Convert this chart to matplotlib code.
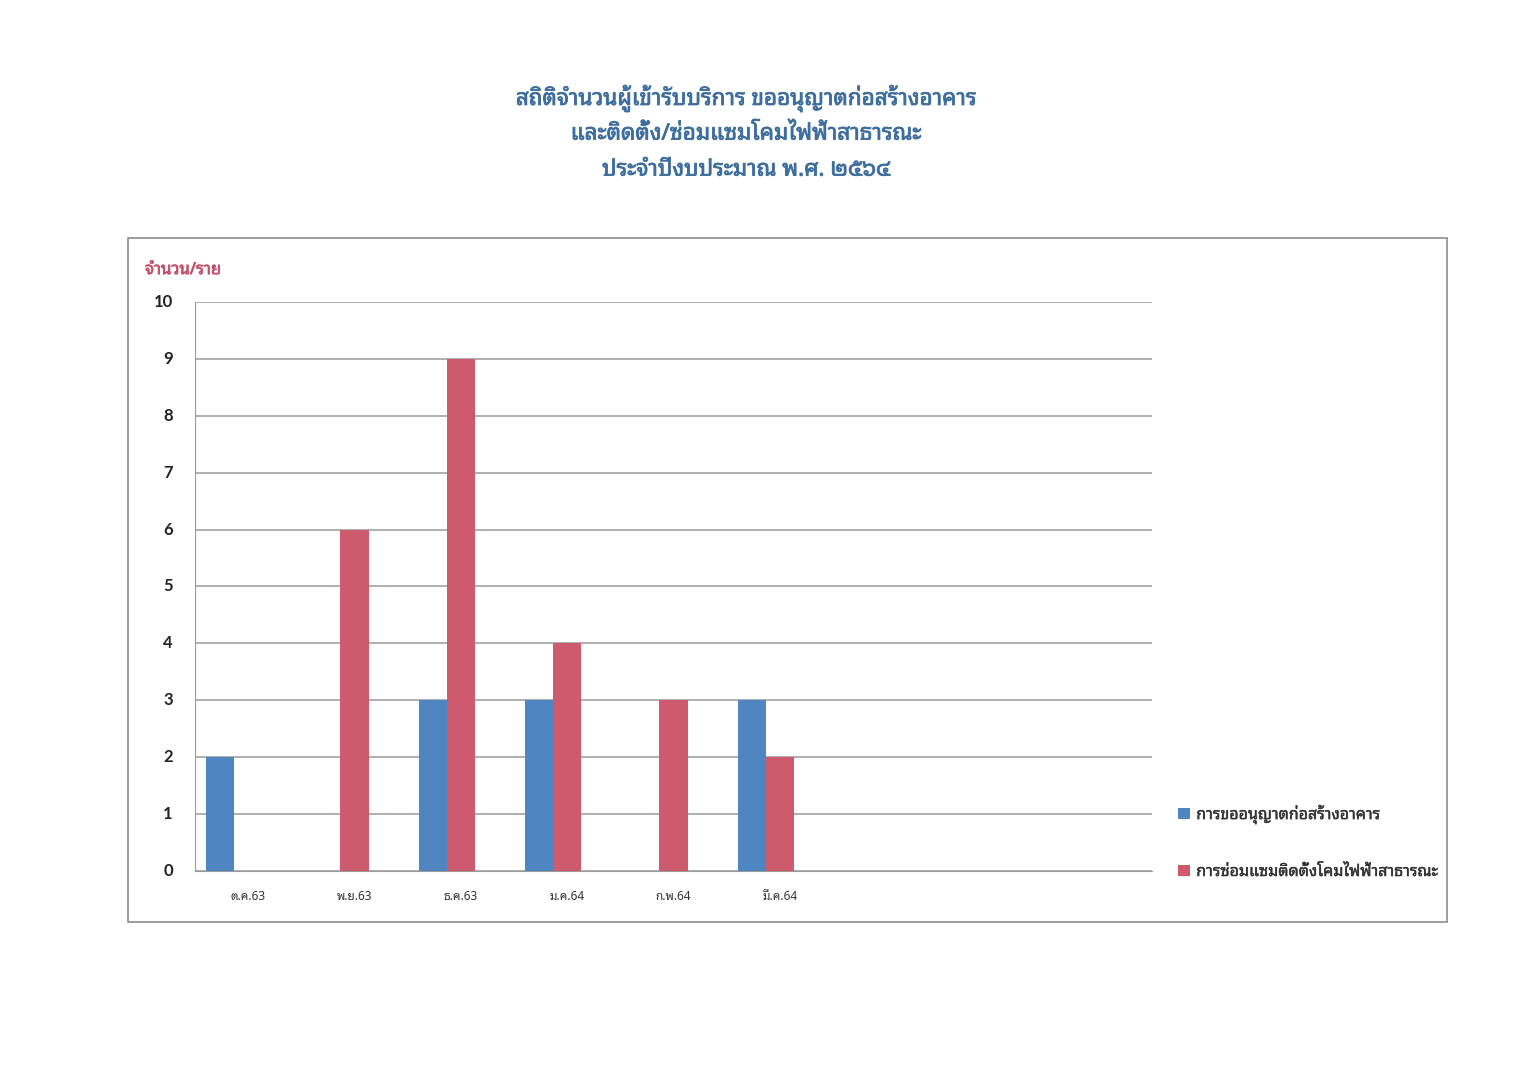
import matplotlib
matplotlib.use('Agg')
import matplotlib.pyplot as plt
import matplotlib.patheffects as pe
import numpy as np
from matplotlib.patches import Rectangle

# data
months = ['ต.ค.63', 'พ.ย.63', 'ธ.ค.63', 'ม.ค.64', 'ก.พ.64', 'มี.ค.64', '', '', '']
building = [2, 0, 3, 3, 0, 3, 0, 0, 0]
lamps = [0, 6, 9, 4, 3, 2, 0, 0, 0]
seriesNames = ['การขออนุญาตก่อสร้างอาคาร', 'การซ่อมแซมติดตั้งโคมไฟฟ้าสาธารณะ']
titleLines = ['สถิติจำนวนผู้เข้ารับบริการ ขออนุญาตก่อสร้างอาคาร',
              'และติดตั้ง/ซ่อมแซมโคมไฟฟ้าสาธารณะ',
              'ประจำปีงบประมาณ พ.ศ. ๒๕๖๔']
yTitle = 'จำนวน/ราย'
yValues = list(range(0, 11))

THAI = ['Noto Sans Thai Looped', 'Noto Sans Thai', 'DejaVu Sans']
plt.rcParams['font.family'] = THAI

BLUE = '#4F85C0'
RED = '#CD5A6D'
TITLE_COLOR = '#3D6E9E'
LABEL_RED = '#C4506A'


def heavy(color, lw=0.7):
    # the looped thai font has no bold face here, so thicken it with a stroke
    return [pe.withStroke(linewidth=lw, foreground=color)]


fig = plt.figure(figsize=(15.27, 10.72), dpi=100)
fig.patch.set_facecolor('white')

# outer chart frame
fig.patches.append(Rectangle((0.0838, 0.1399), 0.8638, 0.638, transform=fig.transFigure,
                             fill=False, edgecolor='#8C8C8C', linewidth=1.2))

for i, line in enumerate(titleLines):
    fig.text(0.4885, 0.9085 - i * 0.0336, line, ha='center', va='center',
             fontsize=16.2, color=TITLE_COLOR, path_effects=heavy(TITLE_COLOR, 0.55))

ax = fig.add_axes([0.1277, 0.1875, 0.6267, 0.5308])
x = np.arange(len(months))
w = 0.264
ax.bar(x - w, building, width=w, color=BLUE, label=seriesNames[0], zorder=3)
ax.bar(x, lamps, width=w, color=RED, label=seriesNames[1], zorder=3)

ax.set_xlim(-0.5, len(months) - 0.5)
ax.set_ylim(0, 10)
ax.set_yticks(yValues)
ax.set_yticklabels([str(v) for v in yValues], family=['Lato', 'DejaVu Sans'],
                   fontweight='bold', fontsize=12, color='#222222', va='center')
ax.set_xticks(x)
ax.set_xticklabels(months, fontsize=8.5, color='#333333')
ax.tick_params(axis='x', length=0, pad=14)
ax.tick_params(axis='y', length=0, pad=16)
ax.yaxis.grid(True, color='#9A9A9A', linewidth=1.1, zorder=0)
for side in ['top', 'right']:
    ax.spines[side].set_visible(False)
ax.spines['left'].set_color('#9A9A9A')
ax.spines['bottom'].set_color('#9A9A9A')

fig.text(0.095, 0.748, yTitle, ha='left', va='center', fontsize=12,
         color=LABEL_RED, path_effects=heavy(LABEL_RED, 0.5))

leg = fig.legend(loc='center left', bbox_to_anchor=(0.762, 0.214), frameon=False,
                 fontsize=11.5, labelspacing=2.5, handlelength=0.75, handleheight=0.75,
                 handletextpad=0.4)
for t in leg.get_texts():
    t.set_color('#333333')
    t.set_path_effects(heavy('#333333', 0.3))

fig.savefig('out.png', dpi=100)
